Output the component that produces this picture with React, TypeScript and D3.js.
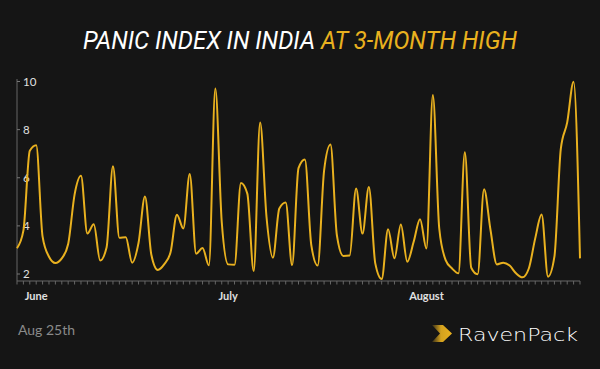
import React from "react";
import * as d3 from "d3";

// daily panic index, India, May 29 - Aug 25
const startDay = new Date(2016, 4, 29);
const endDay = new Date(2016, 7, 25);
const panicValues = [
  3.07, 3.8, 7.12, 7.35, 3.55, 2.72, 2.46, 2.65, 3.25, 5.3,
  6.08, 3.68, 4.07, 2.56, 3.1, 6.48, 3.51, 3.53, 2.47, 3.3,
  5.22, 2.8, 2.17, 2.4, 2.9, 4.46, 3.89, 6.16, 2.84, 3.08,
  2.36, 9.71, 4.17, 2.4, 2.38, 5.78, 5.34, 2.12, 8.3, 4.37,
  2.68, 4.72, 4.97, 2.37, 6.4, 6.76, 3.2, 2.35, 6.3, 7.38,
  3.61, 2.75, 2.77, 5.55, 3.68, 5.62, 2.44, 1.79, 3.86, 2.65,
  4.06, 2.51, 3.34, 4.28, 3.06, 9.44, 3.89, 2.58, 2.23, 2.03,
  7.06, 2.26, 1.99, 5.52, 3.85, 2.4, 2.47, 2.35, 2.03, 1.86,
  2.23, 3.48, 4.47, 1.89, 2.72, 7.2, 8.3, 9.99, 2.65
];
const yTicks = [2, 4, 6, 8, 10];
const monthTicks = [new Date(2016, 5, 1), new Date(2016, 6, 1), new Date(2016, 7, 1)];
const monthLabels = ["June", "July", "August"];

const width = 600;
const height = 369;
const gold = "#E9B11F";

export default function App() {
  const days = d3.timeDay.range(startDay, d3.timeDay.offset(endDay, 1));
  const data = days.map((d, i) => ({ date: d, value: panicValues[i] }));

  const x = d3.scaleTime().domain([startDay, endDay]).range([17, 580]);
  const y = d3.scaleLinear().domain([2, 10]).range([274, 81.5]);
  const axisY = 281;

  const line = d3
    .line<{ date: Date; value: number }>()
    .x(d => x(d.date))
    .y(d => y(d.value))
    .curve(d3.curveMonotoneX);

  return (
    <div style={{ position: "fixed", left: 0, top: 0, width, height, background: "#151515" }}>
      <svg width={width} height={height} style={{ display: "block" }}>
        <rect width={width} height={height} fill="#151515" />
        {/* title */}
        <text
          x={300}
          y={49}
          textAnchor="middle"
          fontFamily="Roboto, sans-serif"
          fontStyle="italic"
          fontWeight={400}
          fontSize={25}
          textLength={434}
          lengthAdjust="spacingAndGlyphs"
          fill="#ffffff"
        >
          PANIC INDEX IN INDIA <tspan fill={gold}>AT 3-MONTH HIGH</tspan>
        </text>

        {/* y axis */}
        <line x1={17} x2={17} y1={79} y2={axisY} stroke="#666" strokeWidth={1} />
        {yTicks.map(t => (
          <g key={t} transform={`translate(17,${y(t)})`}>
            <line x1={0} x2={3} stroke="#777" />
            <text x={6} dy="0.35em" fontFamily="Lato, sans-serif" fontSize={11.5} fill="#e0e0e0">
              {t}
            </text>
          </g>
        ))}

        {/* x axis */}
        <line x1={17} x2={580} y1={axisY} y2={axisY} stroke="#666" strokeWidth={1} />
        {days.map((d, i) => (
          <line key={i} x1={x(d)} x2={x(d)} y1={axisY} y2={axisY + 3.5} stroke="#666" />
        ))}
        {monthTicks.map((m, i) => (
          <text
            key={i}
            x={x(m)}
            y={300}
            textAnchor="middle"
            fontFamily="Lato, sans-serif"
            fontWeight={700}
            fontSize={11}
            fill="#e0e0e0"
          >
            {monthLabels[i]}
          </text>
        ))}

        {/* series */}
        <path d={line(data) || ""} fill="none" stroke={gold} strokeWidth={2} />

        {/* footer */}
        <text x={18} y={335} fontFamily="Lato, sans-serif" fontSize={14} fill="#8a8a8a">
          Aug 25th
        </text>
        <defs>
          <linearGradient id="chev" x1="0" x2="1" y1="0" y2="0">
            <stop offset="0" stopColor={gold} stopOpacity={0.15} />
            <stop offset="0.45" stopColor={gold} stopOpacity={0.9} />
            <stop offset="1" stopColor={gold} />
          </linearGradient>
        </defs>
        <polygon
          points="432,325 443,325 452,333.5 443,342 432,342 440,333.5"
          fill="url(#chev)"
        />
        <text
          x={458}
          y={340.5}
          fontFamily="'DejaVu Sans', sans-serif"
          fontWeight={300}
          fontSize={18.5}
          textLength={120}
          lengthAdjust="spacingAndGlyphs"
          fill="#ffffff"
        >
          RavenPack
        </text>
      </svg>
    </div>
  );
}
